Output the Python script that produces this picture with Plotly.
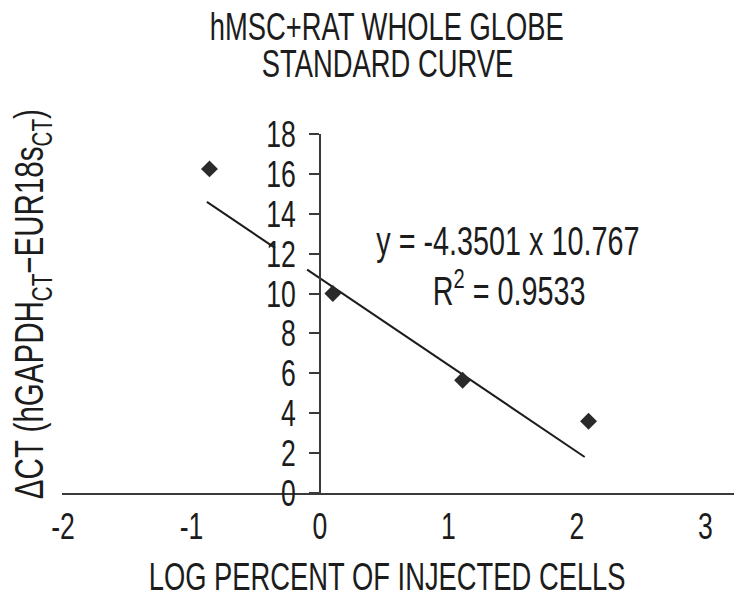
import plotly.graph_objects as go

# Standard curve data: log percent of injected cells vs. delta CT
log_percent = [-0.86, 0.10, 1.11, 2.09]
delta_ct = [16.25, 10.0, 5.65, 3.6]

# Linear fit as reported on the chart
slope = -4.3501
intercept = 10.767
r_squared = 0.9533
fit_start, fit_end = -0.88, 2.06
label_gap = (-0.35, -0.10)  # break in the fit line behind the "12" tick label

x_ticks = [-2, -1, 0, 1, 2, 3]
x_tick_text = ["-2", "-1", "0", "1", "2", "3"]
y_ticks = list(range(0, 19, 2))
x_range = [-2.0076, 3.222]
y_range = [0, 18]

FONT = "Liberation Sans, Arial, sans-serif"
INK = "#1c1c1c"
AXIS = "#3a3a3a"
SQUEEZE = 0.72  # horizontal condensing of all lettering

# plot-area geometry in pixels, used to place paper-referenced labels
L, R, T, B = 62, 0, 134, 108
H = 601 - T - B


def paper_y(py):
    return (601 - B - py) / H


def paper_x(px):
    return (px - L) / (734 - L - R)


fit_x = [fit_start, label_gap[0], None, label_gap[1], fit_end]
fit_y = [None if v is None else slope * v + intercept for v in fit_x]

fig = go.Figure()
fig.add_trace(go.Scatter(
    x=fit_x, y=fit_y, mode="lines",
    line=dict(color=INK, width=2), hoverinfo="skip", showlegend=False,
))
fig.add_trace(go.Scatter(
    x=log_percent, y=delta_ct, mode="markers",
    marker=dict(symbol="diamond", size=13, color="#2a2a2a"),
    showlegend=False,
))

# y axis crosses the x axis at x = 0
y_axis_pos = (0 - x_range[0]) / (x_range[1] - x_range[0])

fig.update_layout(
    width=734, height=601,
    margin=dict(l=L, r=R, t=T, b=B),
    paper_bgcolor="white", plot_bgcolor="white",
    font=dict(family=FONT, color=INK, size=38),
    xaxis=dict(
        range=x_range, showgrid=False, zeroline=False,
        showline=True, linecolor=AXIS, linewidth=1.5,
        ticks="", tickvals=x_ticks, ticktext=x_tick_text,
        ticklabelstandoff=0,
        tickfont=dict(family=FONT, size=37, color=INK),
    ),
    yaxis=dict(
        range=y_range, showgrid=False, zeroline=False,
        anchor="free", position=y_axis_pos,
        showline=True, linecolor=AXIS, linewidth=1.5,
        ticks="outside", ticklen=10, tickwidth=1.5, tickcolor=AXIS,
        tickvals=y_ticks, ticklabelstandoff=6,
        tickfont=dict(family=FONT, size=37, color=INK),
    ),
)

# two-line heading
for line, py in (("hMSC+RAT WHOLE GLOBE", 27), ("STANDARD CURVE", 64)):
    fig.add_annotation(
        x=paper_x(387), y=paper_y(py), xref="paper", yref="paper",
        xanchor="center", yanchor="middle", showarrow=False, text=line,
        font=dict(family=FONT, size=38, color=INK),
    )

# fit equation and R squared
fig.add_annotation(
    x=1.463, y=12.64, xref="x", yref="y", xanchor="center", yanchor="middle",
    showarrow=False, text=f"y = {slope} x {intercept}",
    font=dict(family=FONT, size=40, color=INK),
)
fig.add_annotation(
    x=1.47, y=10.28, xref="x", yref="y", xanchor="center", yanchor="middle",
    showarrow=False, text=f"R<sup>2</sup> = {r_squared}",
    font=dict(family=FONT, size=40, color=INK),
)

# axis titles
fig.add_annotation(
    x=paper_x(387), y=paper_y(577), xref="paper", yref="paper",
    xanchor="center", yanchor="middle", showarrow=False,
    text="LOG PERCENT OF INJECTED CELLS",
    font=dict(family=FONT, size=38, color=INK),
)
fig.add_annotation(
    x=paper_x(32), y=paper_y(304), xref="paper", yref="paper",
    xanchor="center", yanchor="middle", showarrow=False, textangle=-90,
    text="ΔCT (hGAPDH<sub>CT</sub>−EUR18s<sub>CT</sub>)",
    font=dict(family=FONT, size=41, color=INK),
)

# condense every text element horizontally around its own anchor point
condense_js = """
(function () {
  var gd = document.getElementById('{plot_id}');
  var SX = %s;
  function squeeze() {
    gd.querySelectorAll('svg text').forEach(function (t) {
      var tr = t.getAttribute('transform') || '';
      if (tr.indexOf('scale(' + SX + ',1)') !== -1) return;
      var x = parseFloat(t.getAttribute('x')) || 0;
      var y = parseFloat(t.getAttribute('y')) || 0;
      t.setAttribute('transform', tr + ' translate(' + x + ',' + y + ') scale(' + SX +
        ',1) translate(' + (-x) + ',' + (-y) + ')');
    });
  }
  squeeze();
  gd.on('plotly_afterplot', squeeze);
})();
""" % SQUEEZE

fig.write_html("out.html", post_script=condense_js)
